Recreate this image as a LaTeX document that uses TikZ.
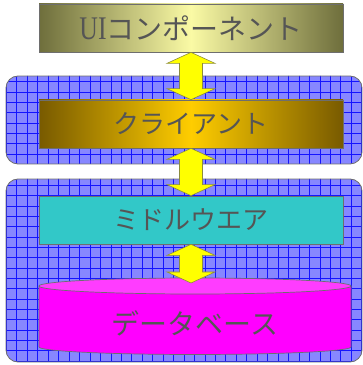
\documentclass[tikz,border=0pt]{standalone}
\usepackage{fontspec}
\newfontfamily\jp{Noto Sans CJK JP}
\newfontfamily\lser{Liberation Serif}
\usetikzlibrary{calc}
\definecolor{gridfill}{RGB}{135,135,255}
\definecolor{gridline}{RGB}{20,20,255}
\definecolor{frameborder}{RGB}{110,110,110}
\definecolor{uiedge}{RGB}{110,110,60}
\definecolor{uicenter}{RGB}{250,250,165}
\definecolor{cledge}{RGB}{120,90,0}
\definecolor{clcenter}{RGB}{255,205,0}
\definecolor{mwfill}{RGB}{50,200,200}
\definecolor{dbbody}{RGB}{255,0,255}
\definecolor{dbtopc}{RGB}{255,60,255}
\definecolor{arrfill}{RGB}{255,255,0}
\definecolor{arrborder}{RGB}{140,140,60}
\definecolor{txtgray}{RGB}{85,85,85}
\tikzset{
  x=1pt,y=1pt,
  layerbox/.style={draw=frameborder,line width=0.7pt,minimum width=304pt,minimum height=48pt,inner sep=0pt,text=txtgray},
  arrowsty/.style={fill=arrfill,draw=arrborder,line width=0.6pt,line join=miter},
  framesty/.style={draw=frameborder,line width=0.8pt,rounded corners=12pt},
}
\newcommand{\gridframe}[4]{%
  \begin{scope}
    \clip[rounded corners=12pt] (#1,#2) rectangle (#3,#4);
    \fill[gridfill] (#1,#2) rectangle (#3,#4);
    \draw[gridline,line width=0.6pt,shift={(6.3,3.85)},xstep=10.45,ystep=10.35] (-20,-20) grid (380,380);
  \end{scope}
  \draw[framesty] (#1,#2) rectangle (#3,#4);
}
\newcommand{\dblarrow}[2]{%
  \filldraw[arrowsty] let \p1=(#1), \p2=(#2) in
    (\x1,\y1) -- (\x1+24pt,\y1-11pt) -- (\x1+11.5pt,\y1-11pt) -- (\x1+11.5pt,\y2+11pt)
    -- (\x1+24pt,\y2+11pt) -- (\x1,\y2) -- (\x1-24pt,\y2+11pt) -- (\x1-11.5pt,\y2+11pt)
    -- (\x1-11.5pt,\y1-11pt) -- (\x1-24pt,\y1-11pt) -- cycle;}
\begin{document}
\begin{tikzpicture}
\useasboundingbox (0,0) rectangle (363,365);
% frames
\gridframe{6}{201}{362}{289}
\gridframe{6}{3}{362}{186}
% boxes
\node[layerbox,left color=uiedge,right color=uiedge,middle color=uicenter] (ui) at (191,337)
  {\fontsize{28}{28}\selectfont\scalebox{0.78}[1]{\lser\fontsize{33}{33}\selectfont UI}\jp コンポーネント};
\node[layerbox,left color=cledge,right color=cledge,middle color=clcenter] (cl) at (191,241)
  {\jp\fontsize{26}{26}\selectfont クライアント};
\node[layerbox,fill=mwfill] (mw) at (191,145)
  {\jp\fontsize{26}{26}\selectfont ミドルウエア};
% database cylinder
\filldraw[fill=dbbody,draw=frameborder,line width=0.7pt]
  (39,79) -- (39,18) arc[start angle=180,end angle=360,x radius=156,y radius=7.5] -- (351,79) -- cycle;
\filldraw[fill=dbtopc,draw=frameborder,line width=0.7pt] (195,79) ellipse[x radius=156,y radius=8];
\node[text=txtgray,inner sep=0pt] (db) at (195,42) {\jp\fontsize{28}{28}\selectfont データベース};
\coordinate (dbtop) at (191,82);
% arrows
\dblarrow{ui.south}{cl.north}
\dblarrow{cl.south}{mw.north}
\dblarrow{mw.south}{dbtop}
\end{tikzpicture}
\end{document}
